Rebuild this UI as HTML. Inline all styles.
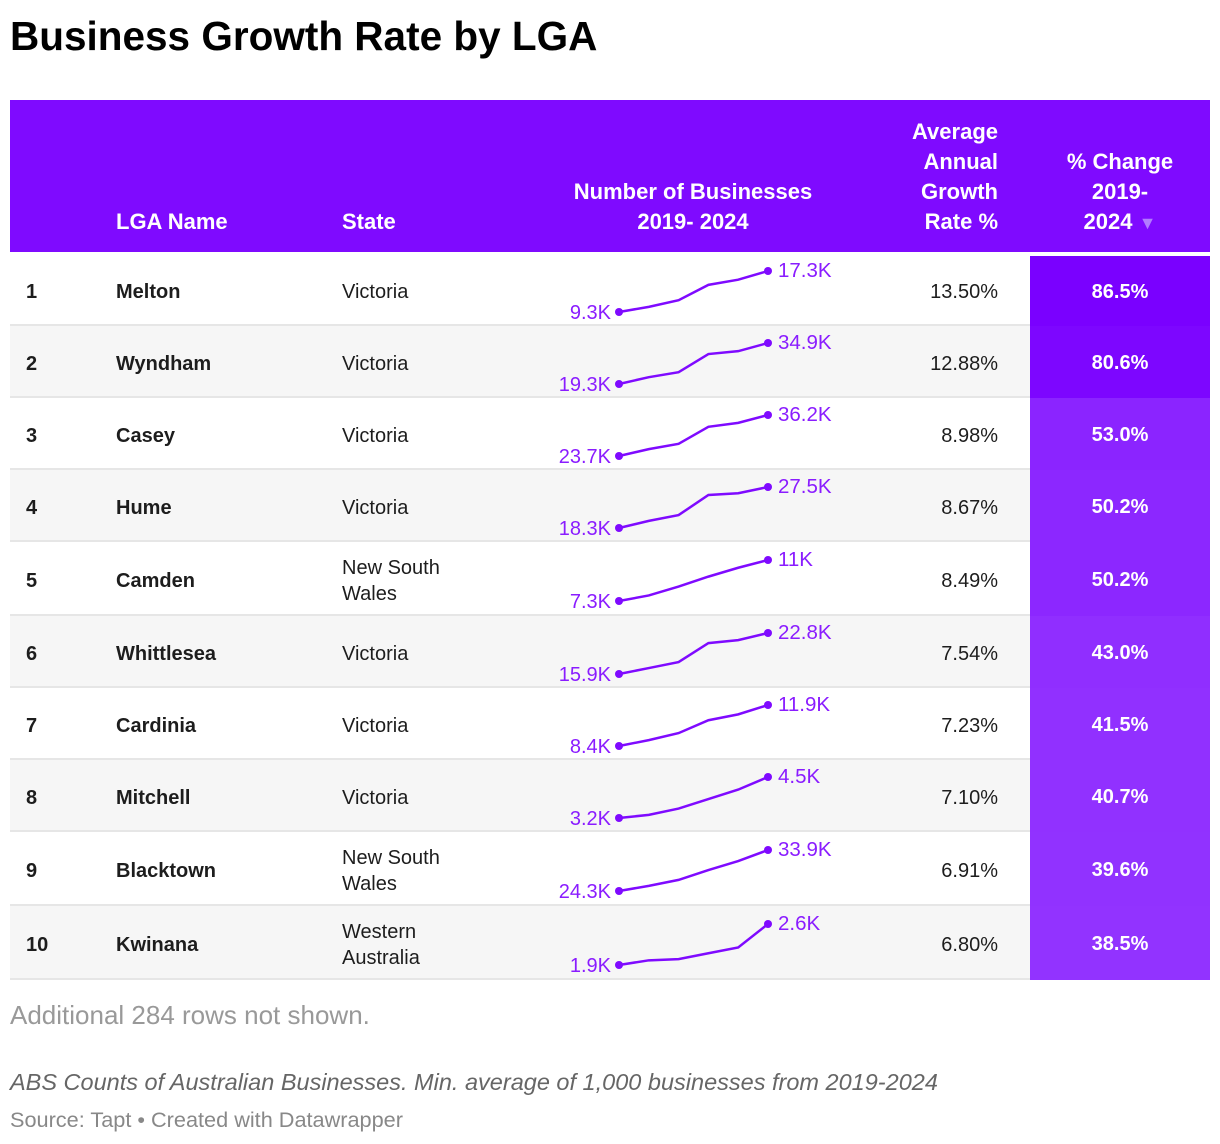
<!DOCTYPE html>
<html><head><meta charset="utf-8"><style>
body{margin:0;width:1220px;height:1144px;background:#fff;font-family:"Liberation Sans",sans-serif;position:relative;overflow:hidden;color:#1d1d1d}
.a{position:absolute;white-space:nowrap}
.h{color:#fff;font-weight:bold;font-size:22px;line-height:30px}
.c{font-size:20px;line-height:26px}
</style></head><body>
<div class="a" style="left:10px;top:11px;font-size:40.5px;font-weight:bold;color:#000;line-height:50px">Business Growth Rate by LGA</div>
<div class="a" style="left:10px;top:100px;width:1200px;height:152px;background:#7f0aff"></div>
<div class="a h" style="left:116px;top:207px">LGA Name</div>
<div class="a h" style="left:342px;top:207px">State</div>
<div class="a h" style="left:540px;width:306px;top:177px;text-align:center">Number of Businesses<br>2019- 2024</div>
<div class="a h" style="left:860px;width:138px;top:117px;text-align:right">Average<br>Annual<br>Growth<br>Rate %</div>
<div class="a h" style="left:1030px;width:180px;top:147px;text-align:center">% Change<br>2019-<br>2024 <span style="color:#b27bff;font-size:18px">▼</span></div>
<div id="rows"></div>
<svg class="a" id="sp" style="left:0;top:0" width="1220" height="1144"></svg>
<div class="a" style="left:10px;top:1000px;font-size:26px;color:#999">Additional 284 rows not shown.</div>
<div class="a" style="left:10px;top:1069px;font-size:23.5px;font-style:italic;color:#666">ABS Counts of Australian Businesses. Min. average of 1,000 businesses from 2019-2024</div>
<div class="a" style="left:10px;top:1107px;font-size:21.7px;color:#888">Source: Tapt • Created with Datawrapper</div>
<script>
const names=["Melton","Wyndham","Casey","Hume","Camden","Whittlesea","Cardinia","Mitchell","Blacktown","Kwinana"];
const states=["Victoria","Victoria","Victoria","Victoria","New South<br>Wales","Victoria","Victoria","Victoria","New South<br>Wales","Western<br>Australia"];
const avgGrowth=["13.50%","12.88%","8.98%","8.67%","8.49%","7.54%","7.23%","7.10%","6.91%","6.80%"];
const pctChange=[86.5,80.6,53.0,50.2,50.2,43.0,41.5,40.7,39.6,38.5];
const series=[
[9.3,10.3,11.6,14.6,15.6,17.3],
[19.3,21.9,23.8,30.7,31.8,34.9],
[23.7,25.8,27.4,32.6,33.8,36.2],
[18.3,19.9,21.2,25.7,26.1,27.5],
[7.3,7.8,8.6,9.5,10.3,11],
[15.9,16.9,17.9,21.1,21.6,22.8],
[8.4,8.9,9.5,10.6,11.1,11.9],
[3.2,3.3,3.5,3.8,4.1,4.5],
[24.3,25.5,26.9,29.2,31.3,33.9],
[1.9,1.98,2.0,2.1,2.2,2.6]];
const firstLabels=["9.3K","19.3K","23.7K","18.3K","7.3K","15.9K","8.4K","3.2K","24.3K","1.9K"];
const lastLabels=["17.3K","34.9K","36.2K","27.5K","11K","22.8K","11.9K","4.5K","33.9K","2.6K"];
const rowTops=[254,326,398,470,542,616,688,760,832,906];
const rowH=[72,72,72,72,74,72,72,72,74,74];
const R=document.getElementById('rows'),S=document.getElementById('sp');
const NS="http://www.w3.org/2000/svg";
const pmin=Math.min(...pctChange),pmax=Math.max(...pctChange);
function shade(v){const t=(v-pmin)/(pmax-pmin);const r=Math.round(146-t*24),g=Math.round(51-t*51);return `rgb(${r},${g},255)`;}
for(let i=0;i<names.length;i++){
 const top=rowTops[i],h=rowH[i],cy=top+h/2+2;
 const row=document.createElement('div');
 
 
 row.className='a';
 row.style.cssText=`left:10px;top:${top}px;width:1200px;height:${h}px;background:${i%2?'#f6f6f6':'#fff'};border-bottom:2px solid #e6e6e6;box-sizing:border-box`;
 R.appendChild(row);
 const cells=[[`left:26px;font-weight:bold`,String(i+1),'rank'],[`left:116px;font-weight:bold`,names[i],'lga-name'],[`left:342px`,states[i],'state'],[`left:860px;width:138px;text-align:right`,avgGrowth[i],'avg-growth']];
 for(const [st,tx,nm] of cells){const d=document.createElement('div');d.className='a c';
  
  
  const lines=tx.split('<br>').length;d.style.cssText=st+`;top:${cy-13*lines}px`;d.innerHTML=tx;document.body.appendChild(d);}
 const ch=document.createElement('div');ch.className='a c';
 
 
 ch.style.cssText=`left:1030px;width:180px;top:${i==0?256:top}px;height:${i==0?h-2:h}px;background:${shade(pctChange[i])};color:#fff;font-weight:bold;text-align:center;line-height:${i==0?h:h+2}px`;
 ch.textContent=pctChange[i].toFixed(1)+'%';document.body.appendChild(ch);
 const s=series[i],mn=Math.min(...s),mx=Math.max(...s);
 const x=k=>619+k*29.8, y=v=>cy+20-(v-mn)/(mx-mn)*41;
 const pl=document.createElementNS(NS,'polyline');
 
 
 pl.setAttribute('points',s.map((v,k)=>x(k)+','+y(v)).join(' '));
 pl.setAttribute('fill','none');pl.setAttribute('stroke','#7f0aff');pl.setAttribute('stroke-width','2.5');S.appendChild(pl);
 for(const k of [0,s.length-1]){const c=document.createElementNS(NS,'circle');
  
  
  c.setAttribute('cx',x(k));c.setAttribute('cy',y(s[k]));c.setAttribute('r','4');c.setAttribute('fill','#7f0aff');S.appendChild(c);}
 const t1=document.createElementNS(NS,'text');
 
 
 t1.setAttribute('x',x(0)-8);t1.setAttribute('y',y(s[0])+7);t1.setAttribute('text-anchor','end');t1.setAttribute('font-size','20');t1.setAttribute('fill','#8a1cff');t1.setAttribute('font-family','Liberation Sans, sans-serif');t1.textContent=firstLabels[i];S.appendChild(t1);
 const t2=document.createElementNS(NS,'text');
 
 
 t2.setAttribute('x',x(5)+10);t2.setAttribute('y',y(s[5])+6);t2.setAttribute('font-size','20.5');t2.setAttribute('fill','#8a1cff');t2.setAttribute('font-family','Liberation Sans, sans-serif');t2.textContent=lastLabels[i];S.appendChild(t2);
}
</script>
</body></html>
